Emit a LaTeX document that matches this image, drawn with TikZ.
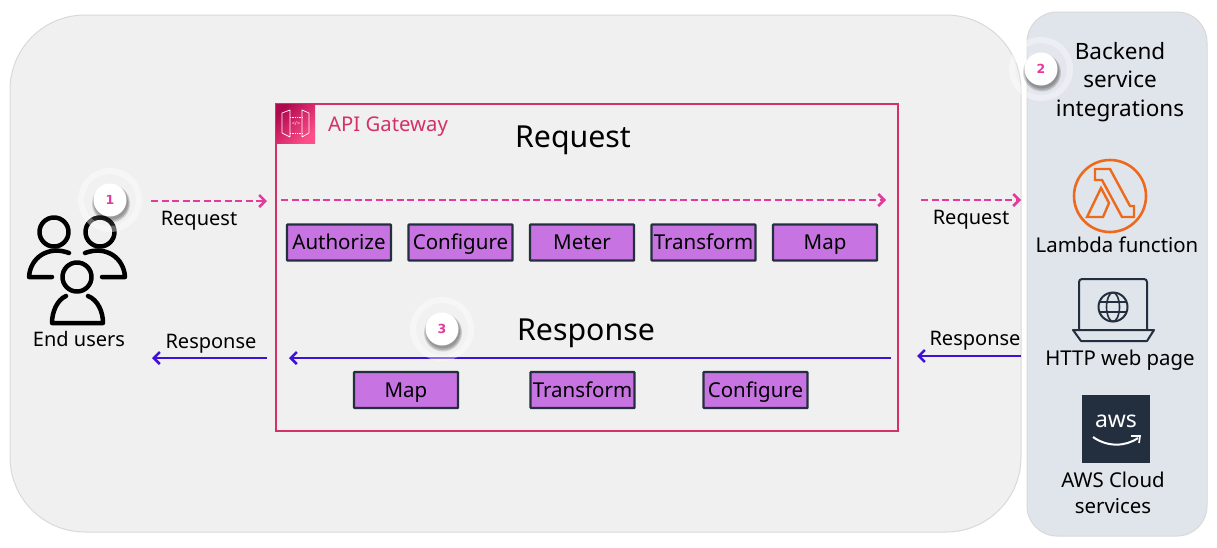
\documentclass[tikz,border=0pt]{standalone}
\usepackage{fontspec}
\setmainfont{Noto Sans}
\newfontfamily\badgefont{DejaVu Sans}
\usetikzlibrary{positioning,arrows.meta}
\definecolor{panelgray}{HTML}{F0F0F0}
\definecolor{panelblue}{HTML}{E0E4EB}
\definecolor{gatewayred}{HTML}{D4316B}
\definecolor{iconlow}{HTML}{B0084D}
\definecolor{iconhigh}{HTML}{FF4F8B}
\definecolor{stagepurple}{HTML}{C774E2}
\definecolor{awsnavy}{HTML}{232F3E}
\definecolor{reqpink}{HTML}{E33A9E}
\definecolor{resblue}{HTML}{3F10D8}
\definecolor{lambdaorange}{HTML}{ED6A1C}
\tikzstyle{panel} = [draw=black!15,line width=1pt,rectangle,inner sep=0]
\tikzstyle{stage} = [draw=awsnavy,line width=2.2pt,fill=stagepurple,rectangle,rounded corners=.02cm,inner sep=0,outer sep=0,minimum width=104pt,minimum height=36pt,text height=17pt,text depth=3pt,font=\fontsize{20.5}{24}\selectfont]
\tikzstyle{flowlabel} = [inner sep=0,font=\fontsize{20}{23}\selectfont]
\tikzstyle{heading} = [inner sep=0,font=\fontsize{30.3}{36}\selectfont]
\tikzstyle{service} = [inner sep=0,align=center,font=\fontsize{20.4}{26}\selectfont]
\tikzstyle{request} = [draw=reqpink,line width=2.5pt,dash pattern=on 7pt off 3.5pt,-{Straight Barb[length=6pt,width=12pt]}]
\tikzstyle{response} = [draw=resblue,line width=2.5pt,-{Straight Barb[length=6pt,width=12pt]}]
\tikzstyle{badge} = [circle,fill=white,minimum size=33pt,inner sep=0,text=reqpink,font=\badgefont\fontsize{12.5}{15}\selectfont\bfseries]
\tikzstyle{halo} = [white,opacity=.4,even odd rule]
\tikzstyle{person} = [draw=black,line width=4.5pt,line cap=round,line join=round]
\tikzstyle{glyph} = [draw=awsnavy,line width=2pt,line join=round]
\tikzstyle{door} = [draw=white,line width=.7pt,line join=round]
\def \hr {32pt}
\def \hi {26pt}
\begin{document}
\begin{tikzpicture}[x=1pt,y=-1pt]
  \useasboundingbox (0,0) rectangle (1217,547);
  \fill[white] (0,0) rectangle (1217,547);
  % panels
  \draw[panel,fill=panelgray,rounded corners=75pt] (10,15) rectangle (1021,532);
  \draw[panel,fill=panelblue,rounded corners=30pt] (1027,12) rectangle (1207,536);
  \draw[draw=gatewayred,line width=1.6pt] (276,104) rectangle (898,431);
  % gateway icon
  \shade[left color=iconlow,right color=iconhigh,shading angle=45] (276,104) rectangle (315,143);
  \draw[door] (282,113) -- (290,110) -- (290,137) -- (282,133) -- cycle;
  \draw[door] (309,113) -- (302,110) -- (302,137) -- (309,133) -- cycle;
  \draw[door,densely dotted] (290,117) -- (302,117);
  \draw[door,densely dotted] (290,133) -- (302,133);
  \node[inner sep=0,text=white,font=\fontsize{5.5}{6}\selectfont] (apiglyph) at (296,124) {</>};
  \node[inner sep=0,anchor=west,text=gatewayred,font=\fontsize{20.3}{24}\selectfont] (apilabel) at (328,127) {API Gateway};
  \node[heading] (reqtitle) at (573,140) {Request};
  \node[heading] (restitle) at (586,333) {Response};
  % request stages
  \node[stage,anchor=west] (authorize) at (287,242.5) {Authorize};
  \node[stage,right=17.5pt of authorize] (configure) {Configure};
  \node[stage,right=17.5pt of configure] (meter) {Meter};
  \node[stage,right=17.5pt of meter] (transform) {Transform};
  \node[stage,right=17.5pt of transform] (map) {Map};
  % response stages
  \node[stage,anchor=west] (resmap) at (354,390) {Map};
  \node[stage,anchor=west] (restransform) at (530.5,390) {Transform};
  \node[stage,anchor=west] (resconfigure) at (703.5,390) {Configure};
  % flow ends
  \coordinate (usera) at (151,201);
  \coordinate (userb) at (267,201);
  \coordinate (gwa) at (281,200);
  \coordinate (gwb) at (886,200);
  \coordinate (backa) at (921,200);
  \coordinate (backb) at (1021,200);
  \coordinate (rbacka) at (1021,356);
  \coordinate (rbackb) at (917,356);
  \coordinate (rgwa) at (891,358);
  \coordinate (rgwb) at (289,358);
  \coordinate (rusera) at (267,358);
  \coordinate (ruserb) at (152,358);
  \draw[request] (usera) -- (userb);
  \draw[request] (gwa) -- (gwb);
  \draw[request] (backa) -- (backb);
  \draw[response] (rbacka) -- (rbackb);
  \draw[response] (rgwa) -- (rgwb);
  \draw[response] (rusera) -- (ruserb);
  \node[flowlabel] (reqleft) at (199,221) {Request};
  \node[flowlabel] (reqright) at (971,220) {Request};
  \node[flowlabel] (resleft) at (211,344) {Response};
  \node[flowlabel] (resright) at (975,341) {Response};
  % end users
  \draw[person] (54,232) circle (14.5pt);
  \draw[person] (100,232) circle (14.5pt);
  \draw[person] (77,277) circle (14.5pt);
  \draw[person] (69,253) .. controls (48,245) and (30,258) .. (29,277) -- (52,277);
  \draw[person] (85,253) .. controls (106,245) and (124,258) .. (125,277) -- (102,277);
  \draw[person] (66,296) .. controls (57,300) and (52,312) .. (52,323) -- (103,323) .. controls (103,312) and (98,300) .. (88,296);
  \node[flowlabel] (endusers) at (79,339) {End users};
  % backend services
  \node[service,font=\fontsize{22.5}{28.5}\selectfont] (backend) at (1120,82) {Backend\\service\\integrations};
  \draw[lambdaorange,line width=2.6pt] (1110,196) circle (36pt);
  \draw[lambdaorange,line width=2.4pt,line join=miter] (1095,169) -- (1110,169) -- (1130,206) -- (1134,206) -- (1134,217) -- (1122,217) -- (1102,180) -- (1095,180) -- cycle;
  \draw[lambdaorange,line width=2.4pt,line join=miter] (1087,217) -- (1101,188) -- (1109,203) -- (1103,217) -- cycle;
  \node[service] (lambda) at (1117,245) {Lambda function};
  \draw[glyph,rounded corners=3pt] (1079,330) -- (1079,279) -- (1147,279) -- (1147,330);
  \draw[glyph] (1073,330) -- (1154,330) -- (1147,341) -- (1081,341) -- cycle;
  \draw[glyph] (1113,307) circle (14.5pt);
  \draw[glyph,line width=1.6pt] (1113,307) ellipse (6.5pt and 14.5pt);
  \draw[glyph,line width=1.6pt] (1099,302) -- (1127,302);
  \draw[glyph,line width=1.6pt] (1099,312) -- (1127,312);
  \node[service] (http) at (1120,360) {HTTP web page};
  \fill[awsnavy] (1082,395) rectangle (1150,463);
  \node[inner sep=0,text=white,font=\fontsize{23}{25}\selectfont] (awsmark) at (1116,421) {aws};
  \draw[white,line width=2pt] (1093,437) .. controls (1107,447) and (1125,447) .. (1138,438);
  \draw[white,line width=1.6pt] (1131,436) -- (1140,436) -- (1139,443);
  \node[service] (awscloud) at (1113,493) {AWS Cloud\\services};
  % numbered badges
  \foreach \n/\px/\py in {1/110/200,2/1041/69,3/442/329} {
    \fill[halo] (\px,\py) circle (\hr) circle (\hi);
    \fill[white,opacity=.12] (\px,\py) circle (\hi);
    \foreach \rr/\dd in {19/3.5,18/3,17/2.5} {
      \fill[black,opacity=.14] (\px+1,\py+\dd) circle (\rr pt);
    }
    \node[badge] (badge\n) at (\px,\py) {\n};
  }
\end{tikzpicture}
\end{document}
